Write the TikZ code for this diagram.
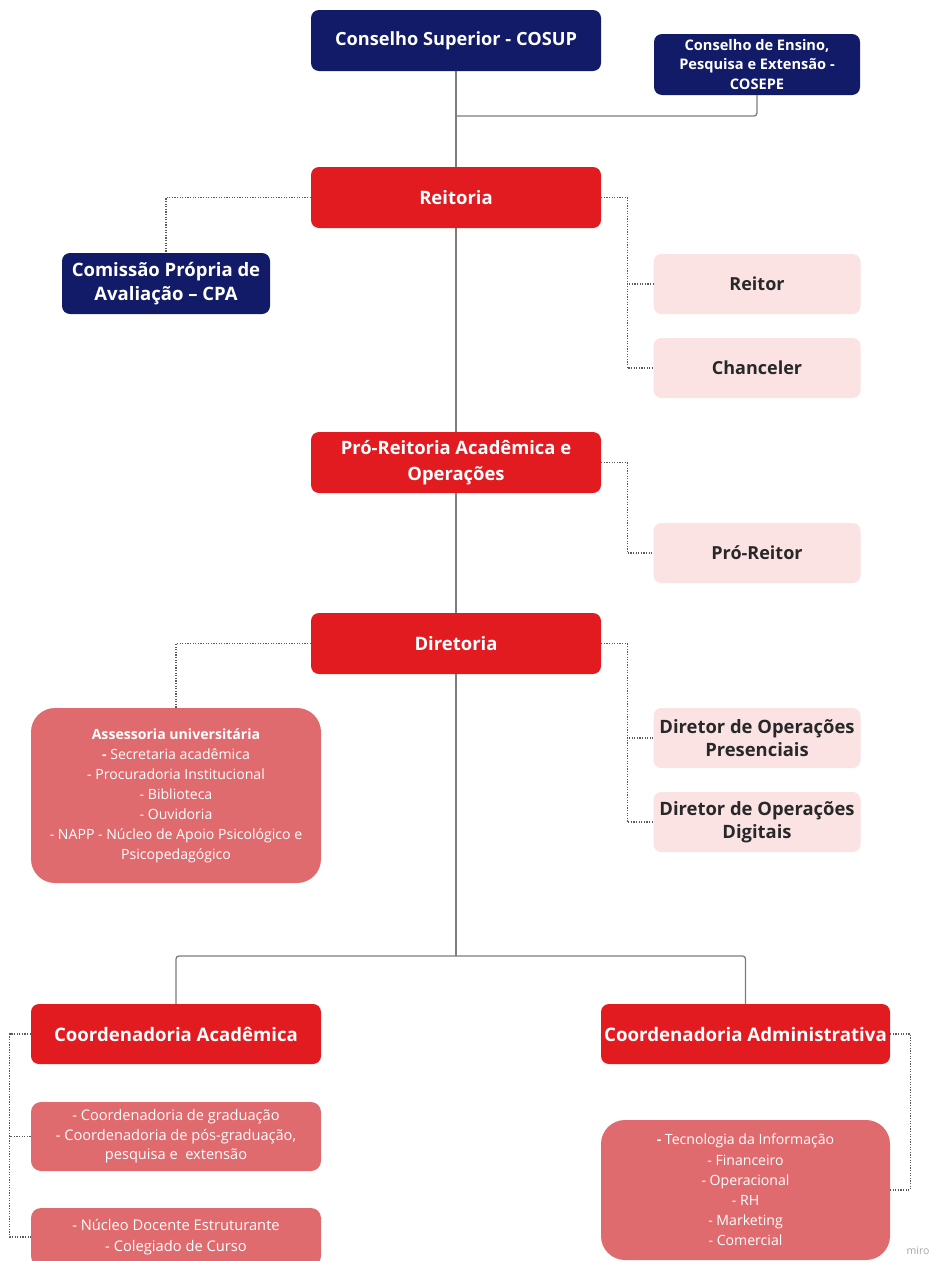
\documentclass[tikz,border=0pt]{standalone}
\usepackage{fontspec}
\setmainfont{Open Sans}
\usetikzlibrary{calc}

\definecolor{navyc}{RGB}{18,27,104}
\definecolor{redc}{RGB}{226,27,33}
\definecolor{pinkc}{RGB}{251,226,227}
\definecolor{salmonc}{RGB}{224,107,110}
\definecolor{linec}{RGB}{125,125,125}
\definecolor{dotc}{RGB}{90,90,90}
\definecolor{darktext}{RGB}{40,40,40}

\newcommand{\fs}[2]{\fontsize{#1}{#2}\selectfont}

\tikzset{
  box/.style={inner sep=0pt, align=center, rounded corners=8pt},
  navybox/.style={box, fill=navyc, text=white, font=\bfseries},
  redbox/.style={box, fill=redc, text=white, font=\bfseries},
  pinkbox/.style={box, fill=pinkc, text=darktext, font=\bfseries\fs{18}{24}, minimum width=207pt, minimum height=60pt},
  listbox/.style={box, fill=salmonc, text=white},
  solidlink/.style={draw=linec, line width=1.3pt, rounded corners=3pt},
  dotlink/.style={draw=dotc, line width=1.1pt, dash pattern=on 1.2pt off 1.4pt},
}

\begin{document}
\begin{tikzpicture}[x=1pt, y=-1pt]
  \useasboundingbox (0,0) rectangle (937,1261);
  \clip (0,0) rectangle (937,1261);
  \fill[white] (0,0) rectangle (937,1261);

  % councils
  \node[navybox, font=\bfseries\fs{18.2}{22}, minimum width=290pt, minimum height=61pt] (cosup) at (456,40.5) {Conselho Superior - COSUP};
  \node[navybox, font=\bfseries\fs{14.6}{19.5}, minimum width=206pt, minimum height=61pt] (cosepe) at (757,64.5) {Conselho de Ensino,\\Pesquisa e Extensão -\\COSEPE};

  % main chain
  \node[redbox, font=\bfseries\fs{18.5}{24}, minimum width=290pt, minimum height=61pt] (reitoria) at (456,197.5) {Reitoria};
  \node[navybox, font=\bfseries\fs{18.5}{24}, minimum width=208pt, minimum height=61pt] (cpa) at (166,283.5) {Comissão Própria de\\Avaliação – CPA};
  \node[pinkbox] (reitor) at (757,284) {Reitor};
  \node[pinkbox] (chanceler) at (757,368) {Chanceler};

  \node[redbox, font=\bfseries\fs{18.4}{26}, minimum width=290pt, minimum height=61pt] (proreitoria) at (456,462.5) {Pró-Reitoria Acadêmica e\\Operações};
  \node[pinkbox] (proreitor) at (757,553) {Pró-Reitor};

  \node[redbox, font=\bfseries\fs{18.5}{24}, minimum width=290pt, minimum height=61pt] (diretoria) at (456,643.5) {Diretoria};
  \node[listbox, rounded corners=24pt, font=\fs{14.1}{20}, minimum width=290pt, minimum height=175pt] (assessoria) at (176,795.5)
    {\textbf{Assessoria universitária}\\\textbf{-} Secretaria acadêmica\\- Procuradoria Institucional\\- Biblioteca\\- Ouvidoria\\- NAPP - Núcleo de Apoio Psicológico e\\Psicopedagógico};
  \node[pinkbox, font=\bfseries\fs{18.4}{23.5}] (presenciais) at (757,738) {Diretor de Operações\\Presenciais};
  \node[pinkbox, font=\bfseries\fs{18.4}{23.5}] (digitais) at (757,822) {Diretor de Operações\\Digitais};

  % coordinations
  \node[redbox, font=\bfseries\fs{18.6}{22}, minimum width=290pt, minimum height=60pt] (coacad) at (176,1034) {Coordenadoria Acadêmica};
  \node[redbox, font=\bfseries\fs{18.7}{22}, minimum width=289pt, minimum height=60pt] (coadm) at (745.5,1034) {Coordenadoria Administrativa};

  \node[listbox, rounded corners=10pt, font=\fs{14.6}{19.5}, minimum width=290pt, minimum height=69pt] (grad) at (176,1136.5)
    {- Coordenadoria de graduação\\- Coordenadoria de pós-graduação,\\pesquisa e\ \ extensão};
  \node[listbox, rounded corners=10pt, font=\fs{14.7}{21}, minimum width=290pt, minimum height=58pt] (nucleo) at (176,1237)
    {- Núcleo Docente Estruturante\\- Colegiado de Curso};
  \node[listbox, rounded corners=24pt, font=\fs{14.1}{20.2}, minimum width=289pt, minimum height=140pt] (ti) at (745.5,1190)
    {\textbf{-} Tecnologia da Informação\\- Financeiro\\- Operacional\\- RH\\- Marketing\\- Comercial};

  \node[text=black!35, font=\fs{10.5}{12}] (miro) at (918,1251) {miro};

  % solid reporting lines
  \coordinate (j1) at (456,116);
  \coordinate (j2) at (456,956);
  \draw[solidlink] (cosepe.south) |- (j1);
  \draw[solidlink] (cosup.south) -- (reitoria.north);
  \draw[solidlink] (reitoria.south) -- (proreitoria.north);
  \draw[solidlink] (proreitoria.south) -- (diretoria.north);
  \draw[solidlink] (diretoria.south) -- (j2);
  \draw[solidlink] (j2) -| (coacad.north);
  \draw[solidlink] (j2) -| (coadm.north);

  % dotted advisory links
  \draw[dotlink] (reitoria.west) -| (cpa.north);
  \coordinate (rr) at ([xshift=26pt]reitoria.east);
  \draw[dotlink] (reitoria.east) -- (rr) |- (chanceler.west);
  \draw[dotlink] (rr) |- (reitor.west);

  \coordinate (pr) at ([xshift=26pt]proreitoria.east);
  \draw[dotlink] (proreitoria.east) -- (pr) |- (proreitor.west);

  \draw[dotlink] (diretoria.west) -| (assessoria.north);
  \coordinate (dr) at ([xshift=26pt]diretoria.east);
  \draw[dotlink] (diretoria.east) -- (dr) |- (digitais.west);
  \draw[dotlink] (dr) |- (presenciais.west);

  \coordinate (ca) at ([xshift=-21pt]coacad.west);
  \draw[dotlink] (coacad.west) -- (ca) |- (nucleo.west);
  \draw[dotlink] (ca) |- (grad.west);

  \coordinate (cd) at ([xshift=20pt]coadm.east);
  \draw[dotlink] (coadm.east) -- (cd) |- (ti.east);
\end{tikzpicture}
\end{document}
